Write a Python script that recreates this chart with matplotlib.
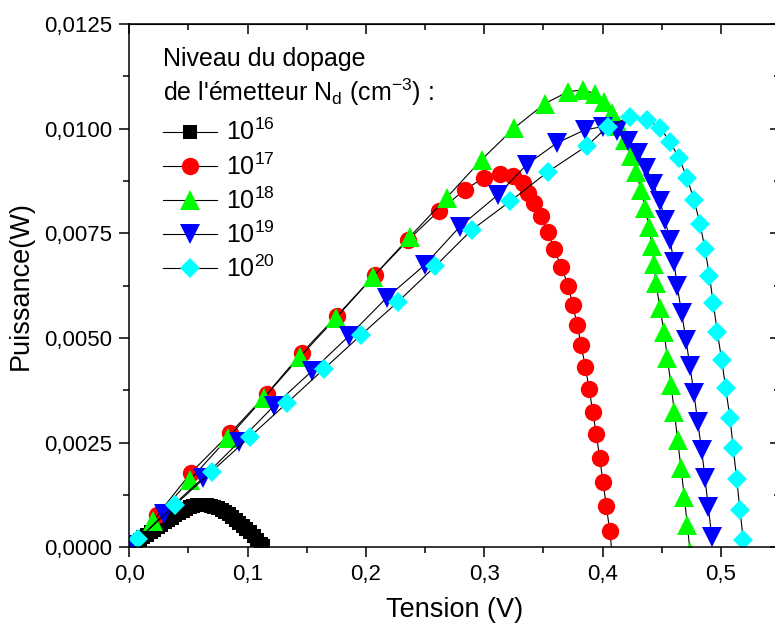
import matplotlib
matplotlib.use("Agg")
import matplotlib.pyplot as plt
from matplotlib.ticker import MultipleLocator, FuncFormatter

plt.rcParams['font.family'] = ['Liberation Sans', 'DejaVu Sans']
plt.rcParams['mathtext.fontset'] = 'custom'
plt.rcParams['mathtext.rm'] = 'Liberation Sans'
plt.rcParams['mathtext.it'] = 'Liberation Sans'
plt.rcParams['mathtext.default'] = 'regular'

# Puissance vs tension pour différents niveaux de dopage de l'émetteur
v_16 = [0.000, 0.003, 0.006, 0.009, 0.012, 0.015, 0.018, 0.021, 0.024, 0.027,
        0.030, 0.033, 0.036, 0.039, 0.042, 0.045, 0.048, 0.051, 0.054, 0.057,
        0.060, 0.063, 0.066, 0.069, 0.072, 0.075, 0.078, 0.081, 0.084, 0.087,
        0.090, 0.093, 0.096, 0.099, 0.102, 0.105, 0.108, 0.111, 0.113]
p_16 = [0.00000, 0.00006, 0.00012, 0.00018, 0.00024, 0.00030, 0.00036, 0.00042,
        0.00048, 0.00054, 0.00060, 0.00066, 0.00071, 0.00077, 0.00082, 0.00087,
        0.00092, 0.00096, 0.00099, 0.00101, 0.00102, 0.00102, 0.00101, 0.00099,
        0.00096, 0.00093, 0.00089, 0.00084, 0.00079, 0.00073, 0.00066, 0.00059,
        0.00052, 0.00044, 0.00036, 0.00027, 0.00018, 0.00009, 0.00003]

v_17 = [0.0237, 0.0521, 0.0851, 0.1161, 0.1457, 0.1755, 0.2076, 0.2358, 0.2617,
        0.2837, 0.2998, 0.3133, 0.3245, 0.3325, 0.3372, 0.3418, 0.3476, 0.3535,
        0.3590, 0.3650, 0.3710, 0.3747, 0.3786, 0.3820, 0.3854, 0.3887, 0.3916,
        0.3947, 0.3975, 0.4003, 0.4031, 0.4060, 0.4082]
p_17 = [0.00077, 0.00178, 0.00272, 0.00366, 0.00464, 0.00553, 0.00651, 0.00734,
        0.00804, 0.00854, 0.00883, 0.00892, 0.00887, 0.00871, 0.00846, 0.00823,
        0.00792, 0.00754, 0.00713, 0.00670, 0.00625, 0.00579, 0.00531, 0.00482,
        0.00430, 0.00378, 0.00324, 0.00270, 0.00214, 0.00157, 0.00099, 0.00040,
        -0.00021]

v_18 = [0.0200, 0.0513, 0.0834, 0.1138, 0.1443, 0.1747, 0.2060, 0.2372, 0.2682,
        0.2978, 0.3251, 0.3513, 0.3707, 0.3834, 0.3935, 0.4011, 0.4079, 0.4138,
        0.4189, 0.4240, 0.4282, 0.4324, 0.4358, 0.4392, 0.4417, 0.4434, 0.4451,
        0.4485, 0.4519, 0.4547, 0.4578, 0.4606, 0.4634, 0.4662, 0.4690, 0.4716,
        0.4739]
p_18 = [0.00063, 0.00161, 0.00261, 0.00357, 0.00455, 0.00548, 0.00646, 0.00742,
        0.00835, 0.00926, 0.01001, 0.01060, 0.01088, 0.01093, 0.01083, 0.01064,
        0.01038, 0.01007, 0.00973, 0.00935, 0.00897, 0.00854, 0.00811, 0.00766,
        0.00720, 0.00677, 0.00631, 0.00571, 0.00515, 0.00452, 0.00388, 0.00324,
        0.00256, 0.00190, 0.00121, 0.00053, -0.00011]

v_19 = [0.0031, 0.0293, 0.0623, 0.0927, 0.1223, 0.1544, 0.1857, 0.2175, 0.2499,
        0.2794, 0.3116, 0.3358, 0.3615, 0.3851, 0.4003, 0.4122, 0.4215, 0.4299,
        0.4367, 0.4426, 0.4485, 0.4527, 0.4569, 0.4603, 0.4631, 0.4668, 0.4705,
        0.4738, 0.4772, 0.4803, 0.4837, 0.4865, 0.4893, 0.4922]
p_19 = [0.00005, 0.00080, 0.00166, 0.00252, 0.00338, 0.00421, 0.00505, 0.00596,
        0.00675, 0.00766, 0.00842, 0.00914, 0.00966, 0.00997, 0.01005, 0.00995,
        0.00971, 0.00942, 0.00907, 0.00868, 0.00828, 0.00782, 0.00734, 0.00682,
        0.00623, 0.00559, 0.00495, 0.00432, 0.00368, 0.00300, 0.00233, 0.00165,
        0.00097, 0.00025]

v_20 = [0.0076, 0.0386, 0.0696, 0.1020, 0.1330, 0.1645, 0.1958, 0.2273, 0.2584,
        0.2894, 0.3217, 0.3538, 0.3868, 0.4045, 0.4231, 0.4375, 0.4485, 0.4569,
        0.4645, 0.4713, 0.4772, 0.4823, 0.4865, 0.4903, 0.4935, 0.4969, 0.5006,
        0.5040, 0.5076, 0.5104, 0.5133, 0.5161, 0.5189]
p_20 = [0.00019, 0.00101, 0.00181, 0.00264, 0.00344, 0.00426, 0.00507, 0.00587,
        0.00671, 0.00758, 0.00826, 0.00897, 0.00959, 0.01005, 0.01028, 0.01021,
        0.01002, 0.00969, 0.00930, 0.00883, 0.00830, 0.00773, 0.00713, 0.00648,
        0.00583, 0.00515, 0.00448, 0.00380, 0.00310, 0.00237, 0.00163, 0.00089,
        0.00017]

labels = ['10$^{16}$', '10$^{17}$', '10$^{18}$', '10$^{19}$', '10$^{20}$']
colors = ['#000000', '#FF0000', '#00FF00', '#0000FF', '#00FFFF']
markers = ['s', 'o', '^', 'v', 'D']
msizes = [10.5, 12.5, 14.5, 14.5, 10.5]

series = [(v_16, p_16), (v_17, p_17), (v_18, p_18), (v_19, p_19), (v_20, p_20)]

fig = plt.figure(figsize=(7.75, 6.29), dpi=100)
ax = fig.add_axes([0.1668, 0.1299, 0.8398, 0.8320])

for (v, p), lab, c, m, ms in zip(series, labels, colors, markers, msizes):
    ax.plot(v, p, color='black', lw=0.8, marker=m, ms=ms, mfc=c, mec=c,
            mew=0, label=lab)

ax.set_xlim(0, 0.55)
ax.set_ylim(0, 0.0125)

ax.xaxis.set_major_locator(MultipleLocator(0.1))
ax.xaxis.set_minor_locator(MultipleLocator(0.05))
ax.yaxis.set_major_locator(MultipleLocator(0.0025))
ax.yaxis.set_minor_locator(MultipleLocator(0.00125))
ax.xaxis.set_major_formatter(FuncFormatter(lambda x, _: f"{x:.1f}".replace('.', ',')))
ax.yaxis.set_major_formatter(FuncFormatter(lambda y, _: f"{y:.4f}".replace('.', ',')))

for s in ax.spines.values():
    s.set_linewidth(1.1)
ax.tick_params(which='both', direction='out', width=1.1, labelsize=16, pad=5)
ax.tick_params(which='major', length=7)
ax.tick_params(which='minor', length=4)

# mirrored axes with inward ticks
top = ax.secondary_xaxis('top')
top.xaxis.set_major_locator(MultipleLocator(0.1))
top.xaxis.set_minor_locator(MultipleLocator(0.05))
top.tick_params(which='both', direction='in', width=1.1, labeltop=False)
top.tick_params(which='major', length=7)
top.tick_params(which='minor', length=4)
right = ax.secondary_yaxis('right')
right.yaxis.set_major_locator(MultipleLocator(0.0025))
right.yaxis.set_minor_locator(MultipleLocator(0.00125))
right.tick_params(which='both', direction='in', width=1.1, labelright=False)
right.tick_params(which='major', length=7)
right.tick_params(which='minor', length=4)

ax.set_xlabel('Tension (V)', fontsize=19.5, labelpad=9)
ax.set_ylabel('Puissance(W)', fontsize=19.5, labelpad=8)

# legend heading
fig.text(163 / 775, 1 - 66 / 629, "Niveau du dopage", fontsize=18,
         ha='left', va='baseline')
fig.text(163 / 775, 1 - 101 / 629, "de l'émetteur N$_d$ (cm$^{-3}$) :",
         fontsize=18, ha='left', va='baseline')

leg = ax.legend(loc='upper left', bbox_to_anchor=(163 / 775, 1 - 119 / 629),
                bbox_transform=fig.transFigure, frameon=False, fontsize=18,
                handlelength=2.15, handletextpad=0.36,
                labelspacing=0.31, borderpad=0, borderaxespad=0,
                numpoints=1)

fig.savefig('out.png', dpi=100)
